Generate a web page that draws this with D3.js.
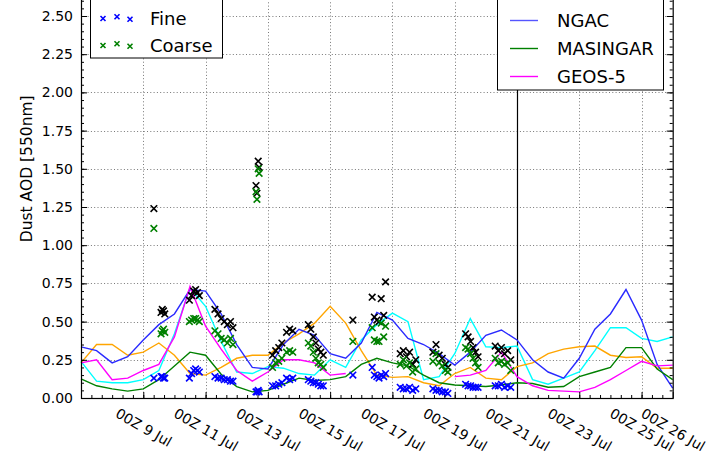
<!DOCTYPE html>
<html>
<head>
<meta charset="utf-8">
<script src="https://cdn.jsdelivr.net/npm/d3@7"></script>
<style>
  body { margin: 0; background: #fff; }
  svg { display: block; }
  text { font-family: "DejaVu Sans", sans-serif; fill: #000; }
</style>
</head>
<body>
<div id="chart"></div>
<script>
// model forecasts, 12-hourly from 00Z 7 Jul
const runStart = new Date(Date.UTC(2012, 6, 7));
const runEnd = new Date(Date.UTC(2012, 6, 26));
const ngac     = [0.335,0.31,0.23,0.27,0.38,0.48,0.55,0.71,0.70,0.55,0.35,0.20,0.19,0.35,0.45,0.41,0.29,0.26,0.36,0.56,0.51,0.39,0.35,0.29,0.215,0.30,0.41,0.445,0.38,0.25,0.17,0.13,0.26,0.45,0.55,0.71,0.51,0.22,0.065];
const masingar = [0.125,0.08,0.06,0.045,0.06,0.12,0.21,0.30,0.28,0.155,0.075,0.04,0.05,0.09,0.13,0.115,0.12,0.14,0.22,0.26,0.23,0.21,0.15,0.10,0.085,0.08,0.075,0.085,0.10,0.095,0.07,0.075,0.14,0.17,0.20,0.33,0.33,0.19,0.12];
const geos5    = [0.23,0.25,0.12,0.13,0.18,0.22,0.40,0.73,0.47,0.32,0.18,0.11,0.17,0.25,0.25,0.23,0.15,0.16,null,null,null,null,null,null,0.14,0.15,0.18,0.30,0.14,0.08,0.05,0.045,0.04,0.07,0.12,0.18,0.24,0.21,0.215];
const cyanModel   = [0.24,0.11,0.10,0.10,0.12,0.18,0.42,0.72,0.60,0.37,0.17,0.16,0.205,0.195,0.16,0.15,0.25,0.20,0.38,0.48,0.555,0.50,0.12,0.14,0.29,0.52,0.335,0.33,0.34,0.12,0.09,0.13,0.17,0.31,0.46,0.46,0.39,0.37,0.40];
const orangeModel = [0.23,0.35,0.35,0.28,0.30,0.36,0.28,0.16,0.15,0.20,0.26,0.28,0.28,0.36,0.42,0.49,0.60,0.49,0.31,0.15,0.135,0.14,0.10,0.08,0.16,0.20,0.13,0.12,0.205,0.23,0.29,0.32,0.335,0.34,0.28,0.265,0.27,0.195,0.195];

// observations (days after 00Z 7 Jul)
const obsDay    = [2.34, 2.57,2.61,2.65,2.69, 3.48,3.55,3.62,3.68,3.74,3.80, 4.30,4.40,4.50,4.60,4.70,4.80,4.88, 5.62,5.65,5.69,5.72, 6.15,6.25,6.35,6.45, 6.60,6.70,6.80, 7.30,7.38,7.46,7.54,7.62,7.70,7.78, 8.73, 9.35,9.42,9.50,9.57,9.64,9.72,9.78, 10.25,10.35,10.45,10.55,10.65,10.75, 11.30,11.40,11.50,11.60,11.70,11.78, 12.35,12.43,12.51,12.59,12.67,12.75, 13.30,13.40,13.50,13.60,13.70,13.80];
const obsTotal  = [1.24, 0.56,0.58,0.57,0.55, 0.64,0.67,0.70,0.71,0.69,0.67, 0.58,0.55,0.52,0.50,0.48,0.50,0.46, 1.39,1.34,1.55,1.51, 0.28,0.31,0.33,0.36, 0.43,0.45,0.44, 0.48,0.45,0.40,0.36,0.32,0.30,0.28, 0.51, 0.66,0.53,0.51,0.50,0.65,0.54,0.76, 0.29,0.31,0.27,0.30,0.22,0.25, 0.30,0.35,0.28,0.26,0.22,0.20, 0.42,0.40,0.37,0.33,0.30,0.27, 0.34,0.31,0.33,0.29,0.31,0.25];
const obsFine   = [0.13, 0.14,0.14,0.13,0.13, 0.13,0.16,0.18,0.19,0.18,0.17, 0.14,0.13,0.13,0.12,0.12,0.11,0.11, 0.04,0.04,0.05,0.04, 0.08,0.08,0.09,0.10, 0.13,0.12,0.13, 0.12,0.11,0.10,0.10,0.09,0.08,0.08, 0.15, 0.20,0.15,0.14,0.13,0.15,0.14,0.16, 0.07,0.06,0.06,0.07,0.05,0.06, 0.06,0.05,0.05,0.04,0.04,0.03, 0.09,0.08,0.08,0.07,0.07,0.07, 0.08,0.08,0.09,0.07,0.08,0.07];
const obsCoarse = [1.11, 0.42,0.44,0.45,0.43, 0.50,0.51,0.52,0.52,0.51,0.50, 0.44,0.42,0.39,0.38,0.36,0.39,0.35, 1.35,1.30,1.50,1.47, 0.20,0.23,0.24,0.26, 0.30,0.31,0.30, 0.36,0.34,0.30,0.26,0.23,0.22,0.20, 0.37, 0.46,0.38,0.37,0.37,0.49,0.40,0.47, 0.22,0.25,0.21,0.23,0.17,0.19, 0.24,0.29,0.23,0.21,0.18,0.17, 0.33,0.32,0.29,0.26,0.23,0.20, 0.26,0.23,0.24,0.22,0.23,0.18];

const xTickDays = [9, 11, 13, 15, 17, 19, 21, 23, 25, 26];
const yTicks = [0, 0.25, 0.5, 0.75, 1.0, 1.25, 1.5, 1.75, 2.0, 2.25, 2.5];
const forecastStartDay = 21;

const width = 708, height = 454;
const plot = {left: 81, right: 672.7, top: -60.4, bottom: 398};

const svg = d3.select("#chart").append("svg")
  .attr("width", width)
  .attr("height", height);

const x = d3.scaleUtc().domain([runStart, runEnd]).range([plot.left, plot.right]);
const y = d3.scaleLinear().domain([0, 3]).range([plot.bottom, plot.top]);

const modelTimes = ngac.map((d, i) => d3.utcHour.offset(runStart, 12 * i));
const obsTimes = obsDay.map(d => new Date(runStart.getTime() + d * 864e5));
const xTicks = xTickDays.map(d => new Date(Date.UTC(2012, 6, d)));

// grid
const grid = svg.append("g").attr("stroke", "#777").attr("stroke-width", 1).attr("stroke-dasharray", "1,2.3");
grid.selectAll(".gy").data(yTicks.filter(d => d > 0)).enter().append("line")
  .attr("x1", plot.left).attr("x2", plot.right)
  .attr("y1", d => Math.round(y(d)) + 0.5).attr("y2", d => Math.round(y(d)) + 0.5);
grid.selectAll(".gx").data(xTicks.slice(0, -1)).enter().append("line")
  .attr("y1", plot.top).attr("y2", plot.bottom)
  .attr("x1", d => Math.round(x(d)) + 0.5).attr("x2", d => Math.round(x(d)) + 0.5);

// forecast start line
const fx = Math.round(x(new Date(Date.UTC(2012, 6, forecastStartDay)))) + 0.5;
svg.append("line")
  .attr("x1", fx).attr("x2", fx).attr("y1", plot.top).attr("y2", plot.bottom)
  .attr("stroke", "#000").attr("stroke-width", 1.2);

// model lines
const line = d3.line()
  .defined(d => d[1] !== null)
  .x(d => x(d[0]))
  .y(d => y(d[1]));

const models = [
  {values: cyanModel, color: "#00ffff"},
  {values: orangeModel, color: "#ffa500"},
  {values: ngac, color: "#2a2aff"},
  {values: masingar, color: "#008000"},
  {values: geos5, color: "#ff00ff"}
];
svg.append("g").selectAll("path").data(models).enter().append("path")
  .attr("d", m => line(m.values.map((v, i) => [modelTimes[i], v])))
  .attr("fill", "none")
  .attr("stroke", m => m.color)
  .attr("stroke-width", 1.4);

// observation crosses
const cross = "M-3.3,-3.3L3.3,3.3M-3.3,3.3L3.3,-3.3";
const obsSets = [
  {values: obsTotal, color: "#000"},
  {values: obsFine, color: "#0000ff"},
  {values: obsCoarse, color: "#008000"}
];
obsSets.forEach(s => {
  svg.append("g").selectAll("path").data(s.values.map((v, i) => [obsTimes[i], v]).filter(d => d[1] !== null))
    .enter().append("path")
    .attr("d", cross)
    .attr("transform", d => `translate(${x(d[0])},${y(d[1])})`)
    .attr("stroke", s.color)
    .attr("stroke-width", 1.6)
    .attr("fill", "none");
});

// axes (ticks point inward)
const yMinor = d3.range(0, 3.001, 0.05).map(d => +d.toFixed(2));
svg.append("g")
  .attr("transform", `translate(${plot.left},0)`)
  .call(d3.axisLeft(y).tickValues(yMinor).tickSize(-3).tickFormat(""))
  .call(g => g.select(".domain").remove());
svg.append("g")
  .attr("transform", `translate(${plot.left},0)`)
  .call(d3.axisLeft(y).tickValues(yTicks).tickSize(-6).tickPadding(8).tickFormat(d3.format(".2f")))
  .call(g => g.select(".domain").remove())
  .call(g => g.selectAll("text").style("font-size", "14px").attr("fill", "#000"));
svg.append("g")
  .attr("transform", `translate(${plot.right},0)`)
  .call(d3.axisRight(y).tickValues(yMinor).tickSize(-3).tickFormat(""))
  .call(g => g.select(".domain").remove());
svg.append("g")
  .attr("transform", `translate(${plot.right},0)`)
  .call(d3.axisRight(y).tickValues(yTicks).tickSize(-6).tickFormat(""))
  .call(g => g.select(".domain").remove());

const xMinor = d3.utcHour.every(8).range(runStart, runEnd);
svg.append("g")
  .attr("transform", `translate(0,${plot.bottom})`)
  .call(d3.axisBottom(x).tickValues(xMinor).tickSize(-3).tickFormat(""))
  .call(g => g.select(".domain").remove());
const xAxis = svg.append("g")
  .attr("transform", `translate(0,${plot.bottom})`)
  .call(d3.axisBottom(x).tickValues(xTicks).tickSize(-6).tickFormat(d3.utcFormat("%HZ %-d %b")))
  .call(g => g.select(".domain").remove());

// rotate the date labels by 30 degrees, centred under each tick
xAxis.selectAll("text")
  .style("font-size", "14px")
  .attr("fill", "#000")
  .attr("y", null).attr("dy", null)
  .attr("text-anchor", "middle")
  .attr("dominant-baseline", "central")
  .attr("transform", function() {
    const w = this.getComputedTextLength();
    const h = 16;
    const a = Math.PI / 6;
    const H = w * Math.sin(a) + h * Math.cos(a);
    return `translate(0,${7 + H / 2}) rotate(30)`;
  });

svg.selectAll(".tick line").attr("stroke", "#000");

// spines
svg.append("rect")
  .attr("x", plot.left + 0.5).attr("y", plot.top)
  .attr("width", plot.right - plot.left).attr("height", plot.bottom - plot.top + 0.5)
  .attr("fill", "none").attr("stroke", "#000").attr("stroke-width", 1.2);

svg.append("text")
  .attr("transform", `translate(27,${(plot.top + plot.bottom) / 2}) rotate(-90)`)
  .attr("text-anchor", "middle")
  .attr("dominant-baseline", "central")
  .style("font-size", "15.5px")
  .text("Dust AOD [550nm]");

// legends (their top parts lie above the picture)
const obsLegend = [
  {label: "Fine", color: "#0000ff", y: 18},
  {label: "Coarse", color: "#008000", y: 45}
];
const lg1 = svg.append("g");
lg1.append("rect").attr("x", 90.5).attr("y", -40).attr("width", 132).attr("height", 98)
  .attr("fill", "#fff").attr("stroke", "#000");
obsLegend.forEach(e => {
  [[103, 0.5], [117, -1.2], [130, 1.3]].forEach(([mx, dy]) => {
    lg1.append("path").attr("d", "M-2.5,-2.5L2.5,2.5M-2.5,2.5L2.5,-2.5")
      .attr("transform", `translate(${mx},${e.y + dy})`)
      .attr("stroke", e.color).attr("stroke-width", 1.6);
  });
  lg1.append("text").attr("x", 150).attr("y", e.y).attr("dominant-baseline", "central")
    .style("font-size", "18px").text(e.label);
});

const modelLegend = [
  {label: "NGAC", color: "#5555ff", y: 20.5},
  {label: "MASINGAR", color: "#008000", y: 48.5},
  {label: "GEOS-5", color: "#ff00ff", y: 76.5}
];
const lg2 = svg.append("g");
lg2.append("rect").attr("x", 497.5).attr("y", -40).attr("width", 166).attr("height", 130)
  .attr("fill", "#fff").attr("stroke", "#000");
modelLegend.forEach(e => {
  lg2.append("line").attr("x1", 510).attr("x2", 538).attr("y1", e.y).attr("y2", e.y)
    .attr("stroke", e.color).attr("stroke-width", 1.4);
  lg2.append("text").attr("x", 557).attr("y", e.y).attr("dominant-baseline", "central")
    .style("font-size", "18px").text(e.label);
});
</script>
</body>
</html>
